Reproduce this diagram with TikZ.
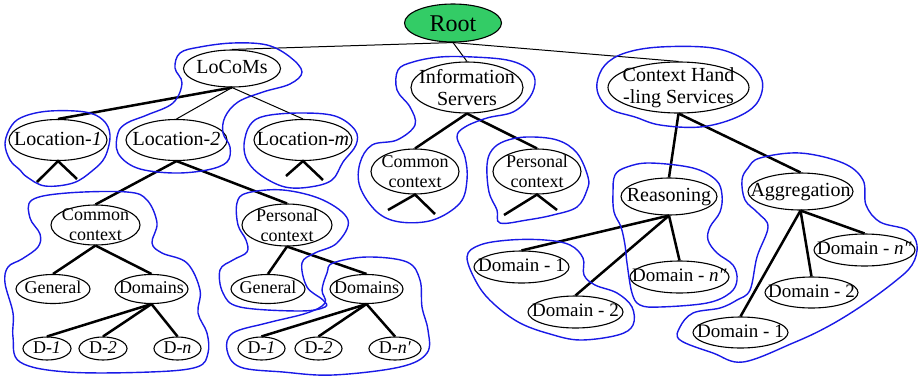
\documentclass[tikz,border=0pt]{standalone}
\usepackage{fontspec}
\setmainfont{Liberation Serif}
\usetikzlibrary{shapes.geometric}
\definecolor{rootgreen}{RGB}{51,204,102}
\definecolor{penblue}{RGB}{25,25,230}

\begin{document}
\begin{tikzpicture}[x=1pt,y=-1pt,
  el/.style={ellipse, draw, line width=1.1pt, inner sep=0pt},
  sz/.style n args={2}{minimum width=#1, minimum height=#2},
  troot/.style={font=\fontsize{24}{26}\selectfont, text height=16pt, text depth=0pt},
  tbig/.style={font=\fontsize{20}{22}\selectfont, align=center},
  tone/.style={font=\fontsize{20}{22}\selectfont, text height=14pt, text depth=4pt},
  tmid/.style={font=\fontsize{18}{20}\selectfont, align=center},
  tsmall/.style={font=\fontsize{18}{20}\selectfont, text height=12.5pt, text depth=3.5pt},
  tdom/.style={font=\fontsize{19}{21}\selectfont, text height=13pt, text depth=3.5pt},
  thinedge/.style={line width=1pt},
  thickedge/.style={line width=2.5pt},
  blob/.style={draw=penblue, line width=1.4pt, smooth cycle, tension=0.6}
]
\useasboundingbox (0,0) rectangle (921,378);

% ---------- nodes ----------
\node[el, fill=rootgreen, sz={97}{38}] (root) at (453,23) {};
\node[troot] at (root) {Root};

\node[el, sz={97}{37}] (locoms) at (232,68.5) {};
\node[tone] at (locoms) {LoCoMs};
\node[el, sz={98}{41}] (loc1) at (58,140) {};
\node[tone] at (loc1) {Location-\textit{1}};
\node[el, sz={101}{41}] (loc2) at (176.5,140) {};
\node[tone] at (loc2) {Location-\textit{2}};
\node[el, sz={98}{41}] (locm) at (303,140) {};
\node[tone] at (locm) {Location-\textit{m}};

\node[el, sz={89}{40}] (cc1) at (95.5,225) {};
\node[tmid] at (cc1) {Common\\context};
\node[el, sz={90}{42}] (pc1) at (287,225) {};
\node[tmid] at (pc1) {Personal\\context};

\node[el, sz={74}{29}] (gen1) at (53,289) {};
\node[tsmall] at (gen1) {General};
\node[el, sz={73}{29}] (dom1) at (151.5,289) {};
\node[tsmall] at (dom1) {Domains};
\node[el, sz={74}{29}] (gen2) at (268,289) {};
\node[tsmall] at (gen2) {General};
\node[el, sz={73}{29}] (dom2) at (366.5,289) {};
\node[tsmall] at (dom2) {Domains};

\node[el, sz={48}{23}] (d11) at (47,348.5) {};
\node[tsmall] at (d11) {D-\textit{1}};
\node[el, sz={48}{23}] (d12) at (103,348.5) {};
\node[tsmall] at (d12) {D-\textit{2}};
\node[el, sz={47}{23}] (d1n) at (177.5,348.5) {};
\node[tsmall] at (d1n) {D-\textit{n}};
\node[el, sz={47}{23}] (d21) at (261.5,348.5) {};
\node[tsmall] at (d21) {D-\textit{1}};
\node[el, sz={47}{23}] (d22) at (318.5,348.5) {};
\node[tsmall] at (d22) {D-\textit{2}};
\node[el, sz={52}{23}] (d2n) at (395,348.5) {};
\node[tsmall] at (d2n) {D-\textit{n′}};

\node[el, sz={112}{51}] (info) at (467,87.5) {};
\node[tbig] at (info) {Information\\Servers};
\node[el, sz={88}{45}] (cc2) at (415,171.5) {};
\node[tmid] at (cc2) {Common\\context};
\node[el, sz={88}{45}] (pc2) at (537,171.5) {};
\node[tmid] at (pc2) {Personal\\context};

\node[el, sz={141}{51}] (chs) at (678.5,87.5) {};
\node[tbig] at (chs) {Context Hand\\-ling Services};
\node[el, sz={96}{37}] (reas) at (669,196.5) {};
\node[tone] at (reas) {Reasoning};
\node[el, sz={105}{37}] (aggr) at (800.5,191.5) {};
\node[tone] at (aggr) {Aggregation};

\node[el, sz={95}{32}] (r1) at (521.5,267) {};
\node[tdom] at (r1) {Domain - 1};
\node[el, sz={95}{32}] (r2) at (575.5,312) {};
\node[tdom] at (r2) {Domain - 2};
\node[el, sz={99}{32}] (rn) at (679.5,277) {};
\node[tdom] at (rn) {Domain - \textit{n″}};
\node[el, sz={101}{32}] (an) at (864.5,250) {};
\node[tdom] at (an) {Domain - \textit{n″}};
\node[el, sz={93}{31}] (a2) at (811.5,292.5) {};
\node[tdom] at (a2) {Domain - 2};
\node[el, sz={95}{31}] (a1) at (740.5,332.5) {};
\node[tdom] at (a1) {Domain - 1};

% free ends of the collapsed subtrees
\coordinate (l1a) at (37,182);
\coordinate (l1b) at (77,179);
\coordinate (lma) at (286,176);
\coordinate (lmb) at (323,180);
\coordinate (c2a) at (388,210);
\coordinate (c2b) at (435,214);
\coordinate (p2a) at (504,215);
\coordinate (p2b) at (557,210);

% ---------- connectors ----------
\draw[thinedge] (root.south) -- (locoms.north);
\draw[thinedge] (root.south) -- (info.north);
\draw[thinedge] (root.south) -- (chs.north);

\draw[thickedge] (locoms.south) -- (loc1.north);
\draw[thinedge] (locoms.south) -- (loc2.north);
\draw[thinedge] (locoms.south) -- (locm.north);

\draw[thickedge] (l1a) -- (loc1.south) -- (l1b);
\draw[thickedge] (lma) -- (locm.south) -- (lmb);

\draw[thickedge] (loc2.south) -- (cc1.north);
\draw[thickedge] (loc2.south) -- (pc1.north);
\draw[thickedge] (cc1.south) -- (gen1.north);
\draw[thickedge] (cc1.south) -- (dom1.north);
\draw[thickedge] (pc1.south) -- (gen2.north);
\draw[thickedge] (pc1.south) -- (dom2.north);
\foreach \t in {d11,d12,d1n} \draw[thickedge] (dom1.south) -- (\t.north);
\foreach \t in {d21,d22,d2n} \draw[thickedge] (dom2.south) -- (\t.north);

\draw[thickedge] (info.south) -- (cc2.north);
\draw[thickedge] (info.south) -- (pc2.north);
\draw[thickedge] (c2a) -- (cc2.south) -- (c2b);
\draw[thickedge] (p2a) -- (pc2.south) -- (p2b);

\draw[thickedge] (chs.south) -- (reas.north);
\draw[thickedge] (chs.south) -- (aggr.north);
\foreach \t in {r1,r2,rn} \draw[thickedge] (reas.south) -- (\t.north);
\foreach \t in {an,a2,a1} \draw[thickedge] (aggr.south) -- (\t.north);

% ---------- hand-drawn groupings ----------
\draw[blob] plot coordinates {(200,47) (233,43) (267,45) (290,57) (302,72) (290,84) (263,92) (238,102) (225,117) (223,133) (230,147) (227,162) (207,170) (173,173) (137,168) (118,153) (118,133) (127,123) (147,115) (173,103) (182,83) (175,68) (180,53)};
\draw[blob] plot coordinates {(5,143) (12,125) (25,116) (50,111) (85,112) (103,120) (110,135) (105,157) (92,171) (73,183) (45,186) (27,177) (20,170) (10,160)};
\draw[blob] plot coordinates {(244,145) (250,125) (265,116) (300,113) (335,116) (355,130) (356,145) (343,162) (332,180) (310,187) (285,187) (262,176) (248,162)};
\draw[blob] plot coordinates {(398,70) (413,62) (440,57) (473,57) (507,60) (527,68) (535,80) (530,97) (513,112) (487,118) (465,127) (457,137) (465,157) (467,180) (460,203) (433,220) (400,222) (377,212) (360,187) (360,163) (372,145) (397,140) (415,125) (410,107) (397,90)};
\draw[blob] plot coordinates {(487,165) (492,150) (505,141) (527,137) (557,140) (577,153) (588,177) (587,190) (577,207) (553,215) (527,220) (500,223) (497,210) (489,192)};
\draw[blob] plot coordinates {(597,83) (605,65) (625,53) (660,47) (713,48) (745,60) (762,80) (757,103) (735,118) (700,127) (660,125) (635,117) (612,110) (600,98)};
\draw[blob] plot coordinates {(613,193) (615,175) (627,167) (650,163) (693,168) (716,180) (722,195) (720,212) (710,227) (708,240) (717,253) (733,265) (737,280) (730,293) (707,303) (660,307) (640,305) (632,293) (627,263) (625,245) (621,227) (614,212)};
\draw[blob] plot coordinates {(742,180) (748,168) (760,158) (800,153) (843,163) (863,180) (866,205) (880,222) (907,230) (917,245) (912,265) (893,283) (860,307) (827,327) (793,343) (743,362) (713,353) (680,340) (680,327) (693,313) (720,308) (737,300) (750,290) (757,257) (768,227) (758,213) (745,200)};
\draw[blob] plot coordinates {(467,257) (480,245) (510,240) (545,240) (570,245) (583,258) (584,275) (595,285) (617,293) (632,307) (633,325) (618,335) (580,340) (550,334) (520,323) (495,305) (478,285)};
\draw[blob] plot coordinates {(32,200) (67,193) (127,192) (147,200) (157,223) (152,243) (162,253) (187,263) (200,290) (198,313) (207,333) (208,353) (197,367) (150,372) (67,372) (20,362) (13,337) (13,313) (5,283) (8,267) (22,259) (38,247) (40,234) (30,218)};
\draw[blob] plot coordinates {(237,203) (247,193) (283,190) (323,200) (348,220) (337,243) (315,253) (302,263) (307,287) (323,300) (325,307) (300,311) (240,307) (223,293) (220,270) (233,260) (247,252) (246,240) (238,225)};
\draw[blob] plot coordinates {(333,263) (367,257) (407,262) (420,280) (422,307) (428,330) (427,353) (400,367) (333,375) (283,372) (240,367) (227,350) (233,333) (267,323) (307,313) (325,303) (322,290) (327,273)};
\end{tikzpicture}
\end{document}
